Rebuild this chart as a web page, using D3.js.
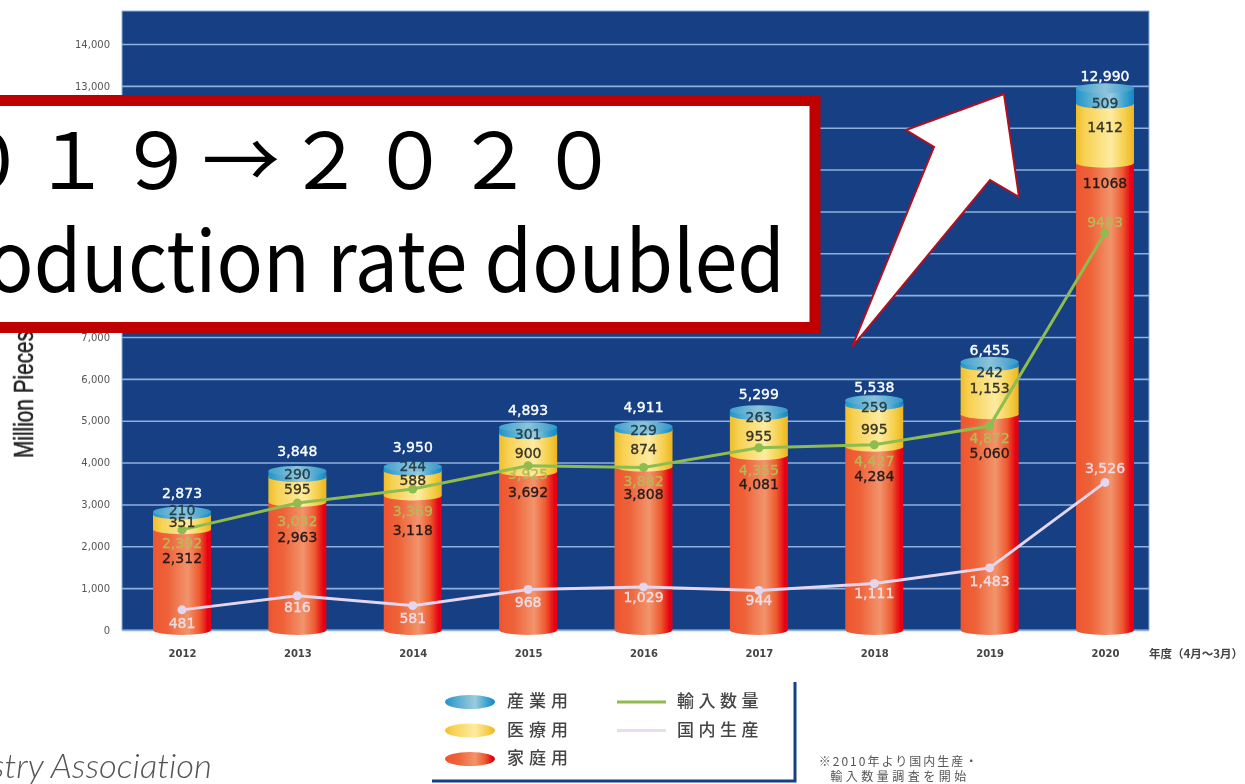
<!DOCTYPE HTML>
<html lang="ja">
<head>
<meta charset="UTF-8">
<style>
  html, body { margin: 0; padding: 0; background: #fff; overflow: hidden; }
  svg { display: block; }
  .num { font: 14px "DejaVu Sans", sans-serif; text-anchor: middle; dominant-baseline: central; stroke-width: 0.35; }
  .jp { font-family: "Noto Sans CJK JP", sans-serif; }
</style>
</head>
<body>
<script src="https://cdn.jsdelivr.net/npm/d3@7"></script>
<script>
var years = ["2012","2013","2014","2015","2016","2017","2018","2019","2020"];
var household = [2312,2963,3118,3692,3808,4081,4284,5060,11068];
var medical = [351,595,588,900,874,955,995,1153,1412];
var industrial = [210,290,244,301,229,263,259,242,509];
var totals = [2873,3848,3950,4893,4911,5299,5538,6455,12990];
var imports = [2392,3032,3369,3925,3882,4355,4427,4872,9483];
var domestic = [481,816,581,968,1029,944,1111,1483,3526];
var yTicks = d3.range(0, 15000, 1000);

// label nudges, the original labels are placed by hand
var totalDy = [-17,-18,-18,-15,-17,-14,-11,-10,-10];
var householdDy = [25,31,31,17,23,25,25,35,16];
var medicalDy = [-4,-5,-7,-4,-3,-3,-1,-6,-10];
var industrialDy = [-4,-1,-4,3,1,3,3,7,6];
var importDy = [13,18,22,8,13,22,16,12,-11];
var domesticDy = [13,11,12,13,10,10,10,13,-14];

var width = 1245, height = 784;
var left = 122, right = 1149, top_ = 11, bottom = 630, barW = 58;

var svg = d3.select("body").append("svg").attr("width", width).attr("height", height);
var defs = svg.append("defs");
defs.append("filter").attr("id", "soft").attr("x", "-5%").attr("y", "-5%").attr("width", "110%").attr("height", "110%")
  .append("feGaussianBlur").attr("stdDeviation", 0.5);

function grad(id, c) {
  var g = defs.append("linearGradient").attr("id", id);
  c.forEach(function(d) { g.append("stop").attr("offset", d[0]).attr("stop-color", d[1]); });
}
grad("gHome", [[0,"#ee5530"],[0.25,"#ee6238"],[0.6,"#f2946c"],[0.8,"#ee5a30"],[0.95,"#e60012"],[1,"#e60012"]]);
grad("gMed", [[0,"#f0bd28"],[0.15,"#f7d154"],[0.6,"#fdeba0"],[0.85,"#f5cf4a"],[1,"#eeb41e"]]);
grad("gInd", [[0,"#1f94cc"],[0.2,"#4fa8d0"],[0.6,"#9ccbdc"],[0.85,"#3aa0cf"],[1,"#1487c4"]]);
grad("gTop", [[0,"#3fa0cc"],[0.5,"#8cc4da"],[1,"#3198c8"]]);
var fills = ["url(#gHome)", "url(#gMed)", "url(#gInd)"];

var x = d3.scalePoint().domain(years).range([182, 1105]);
var y = d3.scaleLinear().domain([0, 14000]).range([bottom, 44]);

var chart = svg.append("g").attr("filter", "url(#soft)");

chart.append("rect").attr("x", left).attr("y", top_).attr("width", right - left).attr("height", bottom - top_)
  .attr("fill", "#134083").attr("stroke", "#8fb0dc").attr("stroke-width", 1);

// tick labels from 8,000 to 12,000 sit under the callout box
var yAxis = chart.append("g").attr("transform", "translate(" + left + ",0)")
  .call(d3.axisLeft(y).tickValues(yTicks).tickSize(-(right - left)).tickPadding(12)
    .tickFormat(function(d) { return d >= 8000 && d <= 12000 ? "" : d3.format(",")(d); }));
yAxis.select(".domain").remove();
yAxis.selectAll("line").attr("stroke", "#8fb0dc").attr("stroke-width", 1.6);
yAxis.selectAll("text").attr("fill", "#555").style("font", "10px 'DejaVu Sans', sans-serif");

var xAxis = chart.append("g").attr("transform", "translate(0,650)")
  .call(d3.axisBottom(x).tickSize(0).tickPadding(0));
xAxis.select(".domain").remove();
xAxis.selectAll("text").attr("fill", "#444").style("font", "bold 10px 'DejaVu Sans', sans-serif");

chart.append("text").attr("class", "jp").attr("x", 1149).attr("y", 658).attr("fill", "#444")
  .style("font-size", "11.5px").style("font-weight", 700).text("年度（4月〜3月）");

chart.append("text").attr("transform", "translate(33,458) rotate(-90) scale(0.77,1)")
  .attr("fill", "#222").attr("stroke", "#222").attr("stroke-width", 0.5)
  .style("font", "27px 'Liberation Sans', sans-serif").text("Million Pieces");

// stacked cylinders
var rows = years.map(function(d, i) { return { year: d, a: household[i], b: medical[i], c: industrial[i] }; });
var series = d3.stack().keys(["a", "b", "c"])(rows);
var rx = barW / 2, ry = 5;

series.forEach(function(s, k) {
  chart.append("g").selectAll("path").data(s).enter().append("path")
    .attr("fill", fills[k])
    .attr("d", function(d) {
      var cx = x(d.data.year);
      var t = k == 2 ? y(d[1]) + 2 : y(d[1]) - 5;
      var b = d[0] == 0 ? y(0) : y(d[0]) - 4;
      return "M" + (cx - rx) + "," + t + "L" + (cx + rx) + "," + t + "L" + (cx + rx) + "," + b +
        "A" + rx + "," + ry + " 0 0 1 " + (cx - rx) + "," + b + "Z";
    });
});
chart.append("g").selectAll("ellipse").data(years).enter().append("ellipse")
  .attr("cx", function(d) { return x(d); })
  .attr("cy", function(d, i) { return y(totals[i]) + 2; })
  .attr("rx", rx).attr("ry", ry).attr("fill", "url(#gTop)");

// lines
var line = d3.line().x(function(d, i) { return x(years[i]); }).y(function(d) { return y(d); });
function drawLine(vals, col) {
  chart.append("path").datum(vals).attr("d", line).attr("fill", "none").attr("stroke", col).attr("stroke-width", 3);
  chart.append("g").selectAll("circle").data(vals).enter().append("circle")
    .attr("cx", function(d, i) { return x(years[i]); })
    .attr("cy", function(d) { return y(d); })
    .attr("r", 4.5).attr("fill", col);
}
drawLine(imports, "#8fbc4f");
drawLine(domestic, "#e4d6ee");

// value labels
function labels(vals, yFn, col, fmt) {
  chart.append("g").selectAll("text").data(vals).enter().append("text")
    .attr("class", "num")
    .attr("x", function(d, i) { return x(years[i]); })
    .attr("y", yFn)
    .attr("fill", col)
    .attr("stroke", col)
    .text(fmt);
}
var comma = d3.format(",");
function keep2020(d, i) { return i == 8 ? String(d) : comma(d); }
labels(totals, function(d, i) { return y(d) + totalDy[i]; }, "#fff", comma);
labels(household, function(d, i) { return y(d) + householdDy[i]; }, "#2a1a18", keep2020);
labels(medical, function(d, i) { return y(household[i] + d / 2) + medicalDy[i]; }, "#3a3424", keep2020);
labels(industrial, function(d, i) { return y(household[i] + medical[i] + d / 2) + industrialDy[i]; }, "#24404e", comma);
labels(imports, function(d, i) { return y(d) + importDy[i]; }, "#b9b856", keep2020);
labels(domestic, function(d, i) { return y(d) + domesticDy[i]; }, "#f0dce4", comma);

// legend
var legendBars = ["産業用", "医療用", "家庭用"];
var legendLines = ["輸入数量", "国内生産"];
var legendBarFill = ["url(#gInd)", "url(#gMed)", "url(#gHome)"];
var legendLineCol = ["#8fbc4f", "#e8dcf0"];
var legend = chart.append("g");
legend.append("path").attr("d", "M432,781H795V682").attr("fill", "none").attr("stroke", "#134083").attr("stroke-width", 3);
legendBars.forEach(function(t, i) {
  var ly = 702 + i * 28.5;
  legend.append("ellipse").attr("cx", 470).attr("cy", ly).attr("rx", 25).attr("ry", 7).attr("fill", legendBarFill[i]);
  legend.append("text").attr("class", "jp").attr("x", 507).attr("y", ly + 5).attr("fill", "#444")
    .style("font-size", "17px").style("letter-spacing", "5px").style("font-weight", 500).text(t);
});
legendLines.forEach(function(t, i) {
  var ly = 702 + i * 28.5;
  legend.append("line").attr("x1", 617).attr("x2", 666).attr("y1", ly).attr("y2", ly)
    .attr("stroke", legendLineCol[i]).attr("stroke-width", 3);
  legend.append("text").attr("class", "jp").attr("x", 677).attr("y", ly + 5).attr("fill", "#444")
    .style("font-size", "17px").style("letter-spacing", "4.5px").style("font-weight", 500).text(t);
});
chart.append("text").attr("class", "jp").attr("x", 899).attr("y", 766).attr("text-anchor", "middle").attr("fill", "#555")
  .style("font-size", "12px").style("letter-spacing", "2px").text("※2010年より国内生産・");
chart.append("text").attr("class", "jp").attr("x", 900).attr("y", 781).attr("text-anchor", "middle").attr("fill", "#555")
  .style("font-size", "12px").style("letter-spacing", "3.5px").text("輸入数量調査を開始");

// callout on top of the chart
svg.append("polygon")
  .attr("points", "1004,94 906,130 934,147 852,347 990,180 1019,197")
  .attr("fill", "#fff").attr("stroke", "#b01020").attr("stroke-width", 2).attr("stroke-linejoin", "miter");
svg.append("rect").attr("x", -40).attr("y", 100.5).attr("width", 855).attr("height", 227)
  .attr("fill", "#fff").attr("stroke", "#c00000").attr("stroke-width", 11);
svg.append("text").attr("class", "jp").attr("x", -136).attr("y", 189).attr("fill", "#000")
  .style("font-size", "78px").style("letter-spacing", "6.5px").style("font-weight", 400).text("２０１９→２０２０");
svg.append("text").attr("class", "jp").attr("transform", "translate(785,292) scale(0.915,1)")
  .attr("text-anchor", "end").attr("fill", "#000")
  .style("font-size", "84px").style("font-weight", 400).text("Production rate doubled");

svg.append("text").attr("transform", "translate(212,778) scale(1.05,1)").attr("text-anchor", "end").attr("fill", "#555")
  .style("font", "italic 300 33px Lato, sans-serif").style("font-variant-ligatures", "none")
  .text("Japan Hygiene Products Industry Association");
</script>
</body>
</html>
